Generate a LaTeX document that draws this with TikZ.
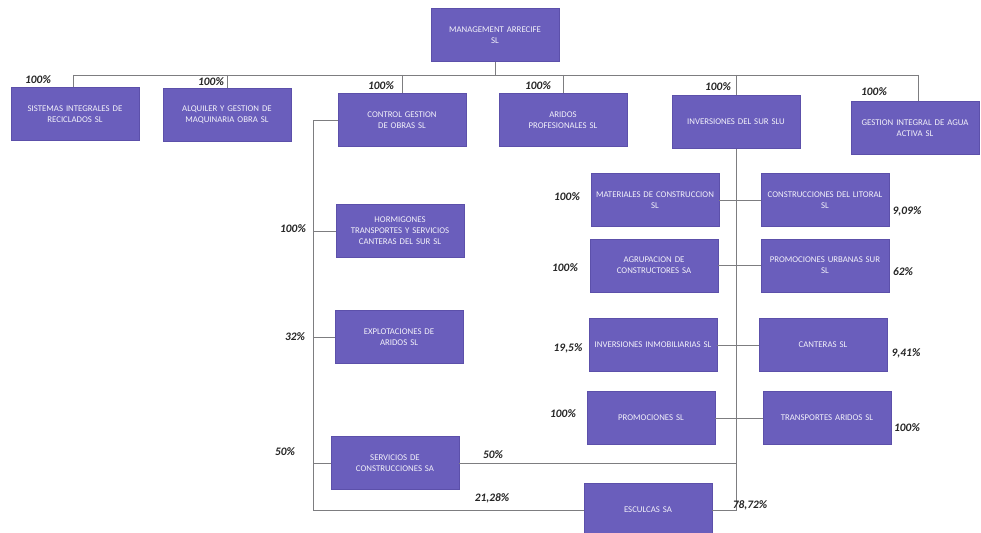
\documentclass[tikz,border=0pt]{standalone}
\usepackage{fontspec}
\setmainfont{Carlito}
\usepackage{xcolor}
\definecolor{boxfill}{RGB}{106,94,188}
\definecolor{boxedge}{RGB}{92,80,170}
\definecolor{linkgray}{RGB}{125,125,128}
\definecolor{paper}{RGB}{255,255,255}

\tikzset{
  company/.style={draw=boxedge, fill=boxfill, line width=0.3pt,
    minimum width=25.6mm, minimum height=10.6mm, text width=24.2mm,
    align=center, inner sep=0.6mm, text=white!92!boxfill,
    font=\fontsize{5}{6.2}\selectfont},
  share/.style={text=black!85, font=\fontsize{6.5}{7}\selectfont\bfseries\itshape, inner sep=0.5pt},
  link/.style={draw=linkgray, line width=0.45pt}
}

\begin{document}
\begin{tikzpicture}
  \useasboundingbox (0,0) rectangle (196.2mm,106.6mm);
  \fill[paper] (0,0) rectangle (196.2mm,106.6mm);

  % holding
  \node[company] (top) at (99mm,99.6mm) {MANAGEMENT ARRECIFE\\SL};

  % first level
  \node[company] (sir) at (15mm,83.8mm) {SISTEMAS INTEGRALES DE\\RECICLADOS SL};
  \node[company] (agm) at (45.4mm,83.6mm) {ALQUILER Y GESTION DE\\MAQUINARIA OBRA SL};
  \node[company] (cgo) at (80.4mm,82.6mm) {CONTROL GESTION\\DE OBRAS SL};
  \node[company] (apr) at (112.6mm,82.6mm) {ARIDOS\\PROFESIONALES SL};
  \node[company] (ids) at (147.2mm,82.2mm) {INVERSIONES DEL SUR SLU};
  \node[company] (gia) at (183mm,81mm) {GESTION INTEGRAL DE AGUA\\ACTIVA SL};

  % left branch
  \node[company] (htc) at (80mm,60.4mm) {HORMIGONES\\TRANSPORTES Y SERVICIOS\\CANTERAS DEL SUR SL};
  \node[company] (ear) at (79.8mm,39.2mm) {EXPLOTACIONES DE\\ARIDOS SL};
  \node[company] (sco) at (79mm,14mm) {SERVICIOS DE\\CONSTRUCCIONES SA};

  % right branch
  \node[company] (mco) at (131mm,66.6mm) {MATERIALES DE CONSTRUCCION\\SL};
  \node[company] (aco) at (130.8mm,53.5mm) {AGRUPACION DE\\CONSTRUCTORES SA};
  \node[company] (iin) at (130.6mm,37.6mm) {INVERSIONES INMOBILIARIAS SL};
  \node[company] (pro) at (130.2mm,23mm) {PROMOCIONES SL};
  \node[company] (esc) at (129.6mm,4.6mm) {ESCULCAS SA};

  \node[company] (cli) at (165mm,66.6mm) {CONSTRUCCIONES DEL LITORAL\\SL};
  \node[company] (pus) at (165mm,53.5mm) {PROMOCIONES URBANAS SUR\\SL};
  \node[company] (can) at (164.6mm,37.6mm) {CANTERAS SL};
  \node[company] (tar) at (165.4mm,23mm) {TRANSPORTES ARIDOS SL};

  % bus under the holding
  \coordinate (busL) at (14.6mm,91.6mm);
  \coordinate (busR) at (183.6mm,91.6mm);
  \draw[link] (top.south) -- (top.south |- busL);
  \draw[link] (busL) -- (busR);
  \draw[link] (busL) -- (busL |- sir.north);
  \draw[link] (busR) -- (busR |- gia.north);
  \foreach \n in {agm,cgo,apr,ids}
    \draw[link] (\n.north |- busL) -- (\n.north);

  % left spine
  \coordinate (spineL) at (62.6mm,82.6mm);
  \draw[link] (cgo.west) -- (spineL) -- (spineL |- esc.west) -- (esc.west);
  \foreach \n in {htc,ear,sco}
    \draw[link] (spineL |- \n.west) -- (\n.west);

  % right spine
  \draw[link] (ids.south) -- (ids.south |- esc.east) -- (esc.east);
  \draw[link] (sco.east) -- (sco.east -| ids.south);
  \draw[link] (mco.east) -- (cli.west);
  \draw[link] (aco.east) -- (pus.west);
  \draw[link] (iin.east) -- (can.west);
  \draw[link] (pro.east) -- (tar.west);

  % stakes
  \node[share] (s1) at (7.6mm,90.6mm) {100\%};
  \node[share] (s2) at (42.2mm,90.2mm) {100\%};
  \node[share] (s3) at (76.2mm,89.5mm) {100\%};
  \node[share] (s4) at (107.6mm,89.5mm) {100\%};
  \node[share] (s5) at (143.6mm,89.2mm) {100\%};
  \node[share] (s6) at (174.8mm,88.3mm) {100\%};

  \node[share] (s7) at (58.6mm,60.8mm) {100\%};
  \node[share] (s8) at (59mm,39.2mm) {32\%};
  \node[share] (s9) at (57mm,16.2mm) {50\%};
  \node[share] (s10) at (98.6mm,15.6mm) {50\%};
  \node[share] (s11) at (98.4mm,7mm) {21,28\%};
  \node[share] (s12) at (150mm,5.6mm) {78,72\%};

  \node[share] (s13) at (113.4mm,67.2mm) {100\%};
  \node[share] (s14) at (113mm,53mm) {100\%};
  \node[share] (s15) at (113.6mm,37mm) {19,5\%};
  \node[share] (s16) at (112.6mm,23.8mm) {100\%};

  \node[share] (s17) at (181.4mm,64.4mm) {9,09\%};
  \node[share] (s18) at (180.6mm,52.2mm) {62\%};
  \node[share] (s19) at (181.2mm,36mm) {9,41\%};
  \node[share] (s20) at (181.4mm,21mm) {100\%};

\end{tikzpicture}
\end{document}
